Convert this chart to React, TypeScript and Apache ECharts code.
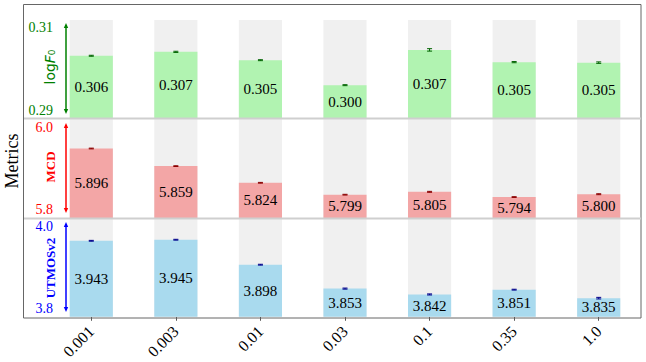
import React, { useEffect, useRef } from 'react';
import * as echarts from 'echarts';

// ---- data ----
const categories = ['0.001', '0.003', '0.01', '0.03', '0.1', '0.35', '1.0'];
const f0Values = [0.306, 0.3068, 0.3051, 0.3, 0.3072, 0.3047, 0.3046];
const f0Errors = [0.0001, 0.00012, 0.0001, 0.0001, 0.00025, 0.00012, 0.00015];
const mcdValues = [5.896, 5.859, 5.824, 5.799, 5.805, 5.794, 5.8];
const mcdErrors = [0.0008, 0.0008, 0.0008, 0.0008, 0.001, 0.0008, 0.001];
const utmosValues = [3.943, 3.945, 3.898, 3.853, 3.842, 3.851, 3.835];
const utmosErrors = [0.0008, 0.0008, 0.0008, 0.001, 0.001, 0.0008, 0.0015];
const f0Ticks = [0.29, 0.31];
const mcdTicks = [5.8, 6.0];
const utmosTicks = [3.8, 4.0];
const f0Range = [0.2933, 0.3133];
const mcdRange = [5.75, 5.958];
const utmosRange = [3.8, 3.984];

const SERIF = '"Liberation Serif", "Times New Roman", serif';

type Panel = {
  values: number[];
  errors: number[];
  range: number[];
  ticks: number[];
  decimals: number;
  barColor: string;
  errColor: string;
  color: string;
  top: number;
  height: number;
  labelTop: number;
  labelHeight: number;
  arrow: [number, number];
};

const panels: Panel[] = [
  {
    values: f0Values, errors: f0Errors, range: f0Range, ticks: f0Ticks, decimals: 2,
    barColor: '#b1f3b1', errColor: '#006400', color: 'green',
    top: 20, height: 98, labelTop: 27, labelHeight: 83, arrow: [23, 114],
  },
  {
    values: mcdValues, errors: mcdErrors, range: mcdRange, ticks: mcdTicks, decimals: 1,
    barColor: '#f3a6a6', errColor: '#8b0000', color: 'red',
    top: 119, height: 99, labelTop: 127, labelHeight: 82, arrow: [123, 213],
  },
  {
    values: utmosValues, errors: utmosErrors, range: utmosRange, ticks: utmosTicks, decimals: 1,
    barColor: '#a9daee', errColor: '#00008b', color: 'blue',
    top: 219, height: 99, labelTop: 226, labelHeight: 82, arrow: [222, 312],
  },
];

function arrowGraphic(x: number, y1: number, y2: number, color: string) {
  const hw = 2.2;
  const hl = 5;
  return {
    type: 'group',
    z: 50,
    children: [
      { type: 'line', shape: { x1: x, y1: y1 + 2, x2: x, y2: y2 - 2 }, style: { stroke: color, lineWidth: 1.5 } },
      { type: 'polygon', shape: { points: [[x, y1], [x - hw, y1 + hl], [x + hw, y1 + hl]] }, style: { fill: color } },
      { type: 'polygon', shape: { points: [[x, y2], [x - hw, y2 - hl], [x + hw, y2 - hl]] }, style: { fill: color } },
    ],
  };
}

export default function App() {
  const ref = useRef<HTMLDivElement>(null);

  useEffect(() => {
    if (!ref.current) return;
    const chart = echarts.init(ref.current, null, { renderer: 'svg' });

    const grids: any[] = [];
    const xAxes: any[] = [];
    const yAxes: any[] = [];
    const series: any[] = [];

    panels.forEach((p, k) => {
      grids.push({ left: 49, right: 5, top: p.top, height: p.height });
      const isBottom = k === panels.length - 1;
      xAxes.push({
        type: 'category',
        gridIndex: k,
        data: categories,
        boundaryGap: true,
        axisLine: { show: false },
        axisTick: isBottom
          ? { show: true, alignWithLabel: true, length: 4, lineStyle: { color: '#555' } }
          : { show: false },
        axisLabel: isBottom
          ? {
              show: true,
              rotate: 45,
              align: 'right',
              verticalAlign: 'middle',
              fontSize: 16,
              fontFamily: SERIF,
              color: '#000',
              margin: 12,
              hideOverlap: false,
            }
          : { show: false },
        splitLine: { show: false },
      });
      yAxes.push({
        type: 'value',
        gridIndex: k,
        min: p.range[0],
        max: p.range[1],
        show: false,
        splitLine: { show: false },
      });
      const [lo, hi] = p.range;
      series.push({
        type: 'custom',
        xAxisIndex: k,
        yAxisIndex: k,
        clip: false,
        data: categories.map((c, i) => [i, p.values[i], p.errors[i]]),
        encode: { x: 0, y: 1 },
        renderItem: (params: any, api: any) => {
          const idx = api.value(0);
          const v = api.value(1);
          const e = api.value(2);
          const band = api.size([1, 0])[0];
          const bw = band * 0.51;
          const pTop = api.coord([idx, v]);
          const pBot = api.coord([idx, lo]);
          const pMax = api.coord([idx, hi]);
          const pEh = api.coord([idx, v + e]);
          const pEl = api.coord([idx, v - e]);
          const cx = pTop[0];
          const cap = 2.5;
          return {
            type: 'group',
            children: [
              { type: 'rect', shape: { x: cx - bw / 2, y: pMax[1], width: bw, height: pBot[1] - pMax[1] }, style: { fill: '#f0f0f0' } },
              { type: 'rect', shape: { x: cx - bw / 2, y: pTop[1], width: bw, height: pBot[1] - pTop[1] }, style: { fill: p.barColor } },
              { type: 'line', shape: { x1: cx, y1: pEh[1], x2: cx, y2: pEl[1] }, style: { stroke: p.errColor, lineWidth: 1 } },
              { type: 'line', shape: { x1: cx - cap, y1: pEh[1], x2: cx + cap, y2: pEh[1] }, style: { stroke: p.errColor, lineWidth: 1 } },
              { type: 'line', shape: { x1: cx - cap, y1: pEl[1], x2: cx + cap, y2: pEl[1] }, style: { stroke: p.errColor, lineWidth: 1 } },
              {
                type: 'text',
                style: {
                  text: v.toFixed(3),
                  x: cx,
                  y: (pTop[1] + pBot[1]) / 2,
                  align: 'center',
                  verticalAlign: 'middle',
                  fontSize: 15,
                  fontFamily: SERIF,
                  fill: '#000',
                },
              },
            ],
          };
        },
      });
    });

    // label grids (tick labels for each metric's range)
    panels.forEach((p, k) => {
      const gi = panels.length + k;
      grids.push({ left: 66, width: 1, top: p.labelTop, height: p.labelHeight });
      xAxes.push({ type: 'value', gridIndex: gi, show: false });
      yAxes.push({
        type: 'value',
        gridIndex: gi,
        min: p.ticks[0],
        max: p.ticks[1],
        axisLine: { show: false },
        axisTick: { show: false },
        splitLine: { show: false },
        axisLabel: {
          show: true,
          customValues: p.ticks,
          margin: 13,
          fontSize: 14,
          fontFamily: SERIF,
          color: p.color,
          formatter: (val: number) => val.toFixed(p.decimals),
        },
      });
    });

    const graphic: any[] = [
      {
        type: 'rect',
        z: 60,
        shape: { x: 23.5, y: 4.5, width: 617.5, height: 313.5 },
        style: { fill: 'none', stroke: '#666', lineWidth: 1 },
      },
      { type: 'line', z: 60, shape: { x1: 24, y1: 118.5, x2: 641, y2: 118.5 }, style: { stroke: '#cfcfcf', lineWidth: 2 } },
      { type: 'line', z: 60, shape: { x1: 24, y1: 218.5, x2: 641, y2: 218.5 }, style: { stroke: '#cfcfcf', lineWidth: 2 } },
      {
        type: 'text',
        x: 12,
        y: 161,
        rotation: Math.PI / 2,
        style: { text: 'Metrics', fontSize: 18, fontFamily: SERIF, fill: '#000', align: 'center', verticalAlign: 'middle' },
      },
      {
        type: 'text',
        x: 50,
        y: 67,
        rotation: Math.PI / 2,
        style: {
          text: '{n|log}{i|F}{n|₀}',
          align: 'center',
          verticalAlign: 'middle',
          fill: 'green',
          rich: {
            n: { fontSize: 14, fontFamily: '"DejaVu Sans", sans-serif', fill: 'green' },
            i: { fontSize: 14, fontFamily: '"DejaVu Sans", sans-serif', fontStyle: 'italic', fill: 'green' },
          },
        },
      },
      {
        type: 'text',
        x: 50,
        y: 167,
        rotation: Math.PI / 2,
        style: { text: 'MCD', fontSize: 13, fontWeight: 'bold', fontFamily: SERIF, fill: 'red', align: 'center', verticalAlign: 'middle' },
      },
      {
        type: 'text',
        x: 50,
        y: 268,
        rotation: Math.PI / 2,
        style: { text: 'UTMOSv2', fontSize: 13, fontWeight: 'bold', fontFamily: SERIF, fill: 'blue', align: 'center', verticalAlign: 'middle' },
      },
      ...panels.map((p) => arrowGraphic(66, p.arrow[0], p.arrow[1], p.color)),
    ];

    chart.setOption({
      animation: false,
      backgroundColor: '#fff',
      grid: grids,
      xAxis: xAxes,
      yAxis: yAxes,
      series,
      graphic,
    });

    return () => chart.dispose();
  }, []);

  return (
    <div
      ref={ref}
      style={{ position: 'absolute', left: 0, top: 0, width: 646, height: 362 }}
    />
  );
}
